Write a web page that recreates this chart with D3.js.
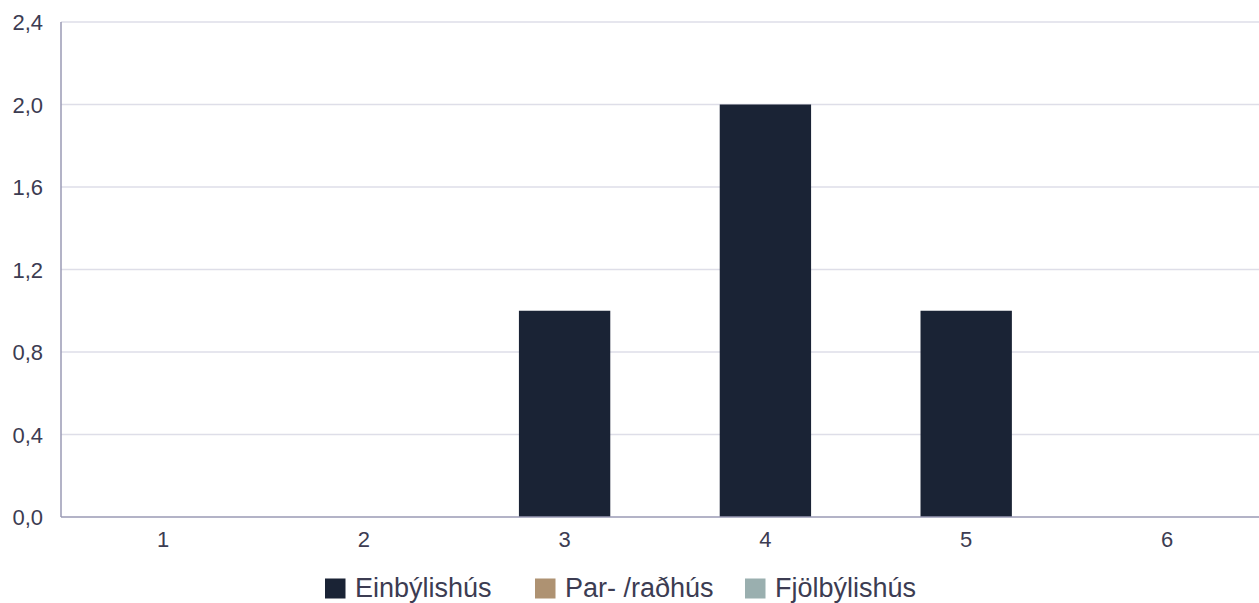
<!DOCTYPE html>
<html><head><meta charset="utf-8">
<script src="https://cdn.jsdelivr.net/npm/d3@7"></script>
<style>
html,body{margin:0;padding:0;background:#fff;}
text{font-family:"Liberation Sans",Arial,sans-serif;fill:#3c3c52;}
</style></head>
<body><svg id="c" width="1259" height="603"></svg>
<script>
const categories = ["1","2","3","4","5","6"];
const seriesNames = ["Einbýlishús","Par- /raðhús","Fjölbýlishús"];
const einbyli = [0,0,1,2,1,0];
const parRad = [0,0,0,0,0,0];
const fjolbyli = [0,0,0,0,0,0];
const yTicks = [0,0.4,0.8,1.2,1.6,2.0,2.4];
const colors = ["#1a2335","#ae9272","#9aafaf"];

const svg = d3.select("#c");
const mLeft = 61, mTop = 22, mBottom = 517;
const x = d3.scaleBand().domain(categories).range([62.6,1267.4]).paddingInner(0.545).paddingOuter(0.2725);
const y = d3.scaleLinear().domain([0,2.4]).range([mBottom, mTop]);

// gridlines
svg.append("g").selectAll("line").data(yTicks.filter(d=>d>0)).join("line")
  .attr("x1",mLeft).attr("x2",1259).attr("y1",d=>y(d)).attr("y2",d=>y(d))
  .attr("stroke","#dedee8").attr("stroke-width",1.5);

// y labels
const fmt = d => d3.format(".1f")(d).replace(".",",");
svg.append("g").selectAll("text").data(yTicks).join("text")
  .attr("x",43).attr("y",d=>y(d)).attr("dy","0.38em").attr("text-anchor","end")
  .style("font-size","22px").text(fmt);

// bars
const series = [einbyli, parRad, fjolbyli];
series.forEach((vals,si)=>{
  svg.append("g").selectAll("rect").data(categories.map((c,i)=>({c,v:vals[i]})).filter(d=>d.v>0)).join("rect")
    .attr("x",d=>x(d.c)).attr("width",x.bandwidth())
    .attr("y",d=>y(d.v)).attr("height",d=>y(0)-y(d.v))
    .attr("fill",colors[si]);
});

// axes lines
svg.append("line").attr("x1",mLeft).attr("x2",mLeft).attr("y1",mTop).attr("y2",mBottom).attr("stroke","#9a9ab4").attr("stroke-width",1.5);
svg.append("line").attr("x1",mLeft).attr("x2",1259).attr("y1",mBottom).attr("y2",mBottom).attr("stroke","#9a9ab4").attr("stroke-width",1.5);

// x labels
svg.append("g").selectAll("text").data(categories).join("text")
  .attr("x",d=>x(d)+x.bandwidth()/2).attr("y",547).attr("text-anchor","middle")
  .style("font-size","22px").text(d=>d);

// legend
const lg = svg.append("g").attr("transform","translate(325,597)");
seriesNames.forEach((n,i)=>{
  const g = lg.append("g").attr("transform",`translate(${i*210},0)`);
  g.append("rect").attr("x",0).attr("y",-18.5).attr("width",20.5).attr("height",20).attr("fill",colors[i]);
  g.append("text").attr("x",30).attr("y",0).style("font-size","27px").text(n);
});
</script></body></html>
